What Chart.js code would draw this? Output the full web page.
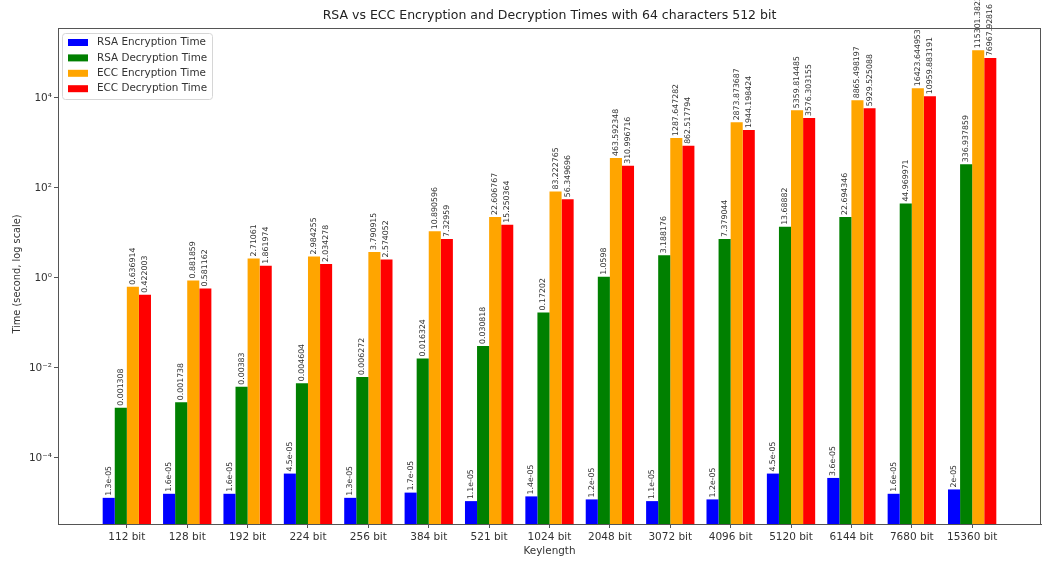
<!DOCTYPE html>
<html>
<head>
<meta charset="utf-8">
<script src="https://cdn.jsdelivr.net/npm/chart.js@4.4.1/dist/chart.umd.min.js"></script>
<style>
  html, body { margin: 0; padding: 0; background: #ffffff; }
  #wrap { width: 1044px; height: 561px; }
</style>
</head>
<body>
<div id="wrap"><canvas id="chart" width="1044" height="561"></canvas></div>
<script>
// Key lengths on the x axis
const keyLengths = ['112 bit', '128 bit', '192 bit', '224 bit', '256 bit', '384 bit', '521 bit',
  '1024 bit', '2048 bit', '3072 bit', '4096 bit', '5120 bit', '6144 bit', '7680 bit', '15360 bit'];

// Measured times in seconds
const rsaEncryption = [1.3e-5, 1.6e-5, 1.6e-5, 4.5e-5, 1.3e-5, 1.7e-5, 1.1e-5, 1.4e-5,
  1.2e-5, 1.1e-5, 1.2e-5, 4.5e-5, 3.6e-5, 1.6e-5, 2e-5];
const rsaDecryption = [0.001308, 0.001738, 0.00383, 0.004604, 0.006272, 0.016324, 0.030818, 0.17202,
  1.0598, 3.188176, 7.379044, 13.68882, 22.694346, 44.969971, 336.937859];
const eccEncryption = [0.636914, 0.881859, 2.71061, 2.984255, 3.790915, 10.890596, 22.606767, 83.222765,
  463.592348, 1287.647282, 2873.873687, 5359.814485, 8865.498197, 16423.644953, 115301.3823];
const eccDecryption = [0.422003, 0.581162, 1.861974, 2.034278, 2.574052, 7.32959, 15.250364, 56.349696,
  310.996716, 862.517794, 1944.198424, 3576.303155, 5929.525088, 10959.883191, 76967.92816];

// Powers of ten shown on the y axis
const yTickValues = [1e-4, 1e-2, 1e0, 1e2, 1e4];
const yTickLabels = ['10\u207B\u2074', '10\u207B\u00B2', '10\u2070', '10\u00B2', '10\u2074'];

const seriesNames = ['RSA Encryption Time', 'RSA Decryption Time', 'ECC Encryption Time', 'ECC Decryption Time'];
const seriesColors = ['#0000ff', '#008000', '#ffa500', '#ff0000'];
const seriesValues = [rsaEncryption, rsaDecryption, eccEncryption, eccDecryption];

const FONT = '"DejaVu Sans", sans-serif';
const TEXT = '#333333';
const LINE = '#555555';

// Python-style number text: small values in exponent form (e.g. 1.3e-05)
function formatValue(v) {
  if (Math.abs(v) < 1e-4) {
    const [m, e] = v.toExponential().split('e');
    const sign = e[0] === '-' ? '-' : '+';
    let digits = e.replace(/^[+-]/, '');
    if (digits.length < 2) digits = '0' + digits;
    return m + 'e' + sign + digits;
  }
  return String(v);
}

const datasets = seriesValues.map((vals, s) => ({
  label: seriesNames[s],
  data: vals.map((v, i) => ({ x: i, y: v })),
  backgroundColor: seriesColors[s],
  borderWidth: 0,
  categoryPercentage: 0.8,
  barPercentage: 1.0
}));

const decorations = {
  id: 'decorations',
  afterDatasetsDraw(chart) {
    const ctx = chart.ctx;
    const area = chart.chartArea;
    // value labels above every bar
    ctx.save();
    ctx.font = '7.8px ' + FONT;
    ctx.fillStyle = '#333333';
    ctx.textAlign = 'left';
    ctx.textBaseline = 'middle';
    chart.data.datasets.forEach((ds, di) => {
      const meta = chart.getDatasetMeta(di);
      meta.data.forEach((bar, i) => {
        ctx.save();
        ctx.translate(bar.x, bar.y - 2);
        ctx.rotate(-Math.PI / 2);
        ctx.fillText(formatValue(seriesValues[di][i]), 0, 0);
        ctx.restore();
      });
    });
    ctx.restore();

    // frame around the plot
    ctx.save();
    ctx.strokeStyle = LINE;
    ctx.lineWidth = 1;
    ctx.strokeRect(Math.round(area.left) + 0.5, Math.round(area.top) + 0.5,
      Math.round(area.right - area.left) - 1, Math.round(area.bottom - area.top));
    ctx.restore();
  },
  afterDraw(chart) {
    const ctx = chart.ctx;
    const area = chart.chartArea;
    const cx = (area.left + area.right) / 2;
    ctx.save();
    // title
    ctx.fillStyle = '#222222';
    ctx.font = '12.5px ' + FONT;
    ctx.textAlign = 'center';
    ctx.textBaseline = 'middle';
    ctx.fillText('RSA vs ECC Encryption and Decryption Times with 64 characters 512 bit', cx, 16);

    // axis titles
    ctx.fillStyle = TEXT;
    ctx.font = '10.4px ' + FONT;
    ctx.fillText('Keylength', cx, 551);
    ctx.save();
    ctx.font = '9.8px ' + FONT;
    ctx.translate(17, (area.top + area.bottom) / 2 - 2);
    ctx.rotate(-Math.PI / 2);
    ctx.fillText('Time (second, log scale)', 0, 0);
    ctx.restore();

    // legend
    const lx = 62, ly = 33, lw = 150, lh = 66;
    ctx.fillStyle = 'rgba(255,255,255,0.85)';
    ctx.strokeStyle = '#d6d6d6';
    ctx.lineWidth = 1;
    ctx.beginPath();
    ctx.roundRect(lx + 0.5, ly + 0.5, lw, lh, 3);
    ctx.fill();
    ctx.stroke();
    ctx.font = '10.4px ' + FONT;
    ctx.textAlign = 'left';
    ctx.textBaseline = 'middle';
    seriesNames.forEach((name, i) => {
      const yy = ly + 9.5 + i * 15.4;
      ctx.fillStyle = seriesColors[i];
      ctx.fillRect(68, yy - 3.5, 20, 7);
      ctx.fillStyle = TEXT;
      ctx.fillText(name, 97, yy);
    });
    ctx.restore();
  }
};

new Chart(document.getElementById('chart'), {
  type: 'bar',
  data: { datasets },
  options: {
    responsive: false,
    animation: false,
    devicePixelRatio: 1,
    layout: { padding: { top: 28, right: 3, left: 0, bottom: 0 } },
    plugins: {
      legend: { display: false },
      title: { display: false },
      tooltip: { enabled: false }
    },
    scales: {
      x: {
        type: 'linear',
        min: -1.14,
        max: 15.14,
        offset: false,
        afterBuildTicks(scale) {
          scale.ticks = keyLengths.map((_, i) => ({ value: i }));
        },
        afterFit(scale) { scale.height = 37; },
        ticks: {
          autoSkip: false,
          maxRotation: 0,
          padding: 3,
          color: TEXT,
          font: { family: FONT, size: 10.5 },
          callback: (v) => keyLengths[v]
        },
        grid: { display: true, offset: false, drawOnChartArea: false, drawTicks: true, tickLength: 4, color: LINE },
        border: { display: true, color: LINE }
      },
      y: {
        type: 'logarithmic',
        min: 3.41e-6,
        max: 3.59e5,
        afterBuildTicks(scale) {
          scale.ticks = yTickValues.map(v => ({ value: v }));
        },
        afterFit(scale) { scale.width = 58; },
        ticks: {
          autoSkip: false,
          padding: 2,
          color: TEXT,
          font: { family: FONT, size: 10.5 },
          callback: (v) => yTickLabels[yTickValues.indexOf(v)]
        },
        grid: { display: true, drawOnChartArea: false, drawTicks: true, tickLength: 4, color: LINE },
        border: { display: true, color: LINE }
      }
    }
  },
  plugins: [decorations]
});
</script>
</body>
</html>
